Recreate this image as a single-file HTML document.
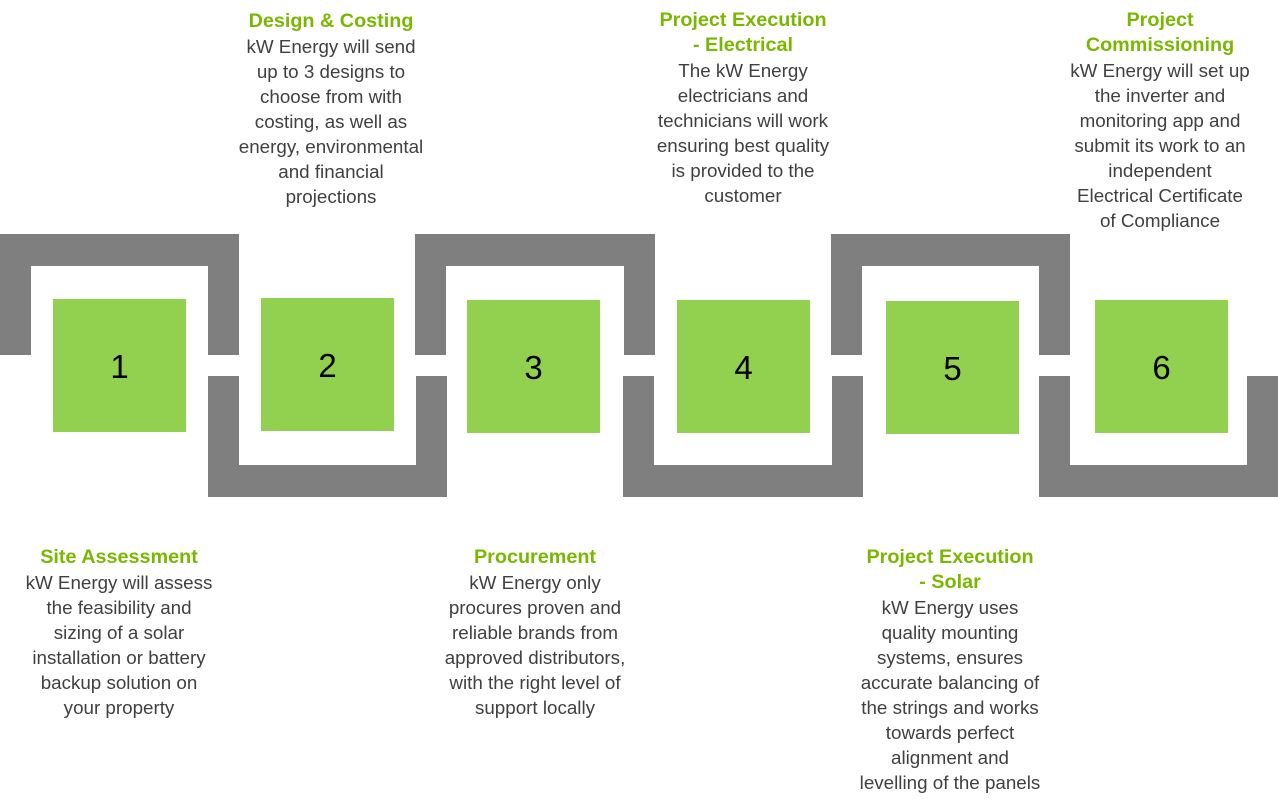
<!DOCTYPE html>
<html><head><meta charset="utf-8"><style>
body{margin:0;width:1278px;height:808px;position:relative;background:#fff;overflow:hidden;font-family:"Liberation Sans",sans-serif}
.g{position:absolute;background:#7f7f7f}
.s{position:absolute;background:#92d050;width:133px;height:133px;display:flex;align-items:center;justify-content:center;font-size:33px;color:#000;padding-top:2px;box-sizing:border-box}
.t{position:absolute;width:260px;text-align:center;font-size:18.8px;line-height:25px;color:#404040}
.t b{color:#7ab800;font-size:19.8px;display:block}
</style></head><body>
<div class="g" style="left:0;top:234px;width:239px;height:32px"></div>
<div class="g" style="left:0;top:234px;width:31px;height:121px"></div>
<div class="g" style="left:208px;top:234px;width:31px;height:121px"></div>
<div class="g" style="left:415px;top:234px;width:240px;height:32px"></div>
<div class="g" style="left:415px;top:234px;width:31px;height:121px"></div>
<div class="g" style="left:624px;top:234px;width:31px;height:121px"></div>
<div class="g" style="left:831px;top:234px;width:239px;height:32px"></div>
<div class="g" style="left:831px;top:234px;width:31px;height:121px"></div>
<div class="g" style="left:1039px;top:234px;width:31px;height:121px"></div>
<div class="g" style="left:208px;top:465px;width:239px;height:32px"></div>
<div class="g" style="left:208px;top:376px;width:31px;height:121px"></div>
<div class="g" style="left:416px;top:376px;width:31px;height:121px"></div>
<div class="g" style="left:623px;top:465px;width:240px;height:32px"></div>
<div class="g" style="left:623px;top:376px;width:31px;height:121px"></div>
<div class="g" style="left:832px;top:376px;width:31px;height:121px"></div>
<div class="g" style="left:1039px;top:465px;width:239px;height:32px"></div>
<div class="g" style="left:1039px;top:376px;width:31px;height:121px"></div>
<div class="g" style="left:1247px;top:376px;width:31px;height:121px"></div>
<div class="s" style="left:53px;top:299px">1</div>
<div class="s" style="left:261px;top:298px">2</div>
<div class="s" style="left:467px;top:300px">3</div>
<div class="s" style="left:677px;top:300px">4</div>
<div class="s" style="left:886px;top:301px">5</div>
<div class="s" style="left:1095px;top:300px">6</div>
<div class="t" style="left:201px;top:9px"><b>Design &amp; Costing</b>kW Energy will send<br>up to 3 designs to<br>choose from with<br>costing, as well as<br>energy, environmental<br>and financial<br>projections</div>
<div class="t" style="left:613px;top:8px"><b>Project Execution<br>- Electrical</b>The kW Energy<br>electricians and<br>technicians will work<br>ensuring best quality<br>is provided to the<br>customer</div>
<div class="t" style="left:1030px;top:8px"><b>Project<br>Commissioning</b>kW Energy will set up<br>the inverter and<br>monitoring app and<br>submit its work to an<br>independent<br>Electrical Certificate<br>of Compliance</div>
<div class="t" style="left:-11px;top:545px"><b>Site Assessment</b>kW Energy will assess<br>the feasibility and<br>sizing of a solar<br>installation or battery<br>backup solution on<br>your property</div>
<div class="t" style="left:405px;top:545px"><b>Procurement</b>kW Energy only<br>procures proven and<br>reliable brands from<br>approved distributors,<br>with the right level of<br>support locally</div>
<div class="t" style="left:820px;top:545px"><b>Project Execution<br>- Solar</b>kW Energy uses<br>quality mounting<br>systems, ensures<br>accurate balancing of<br>the strings and works<br>towards perfect<br>alignment and<br>levelling of the panels</div>
</body></html>
